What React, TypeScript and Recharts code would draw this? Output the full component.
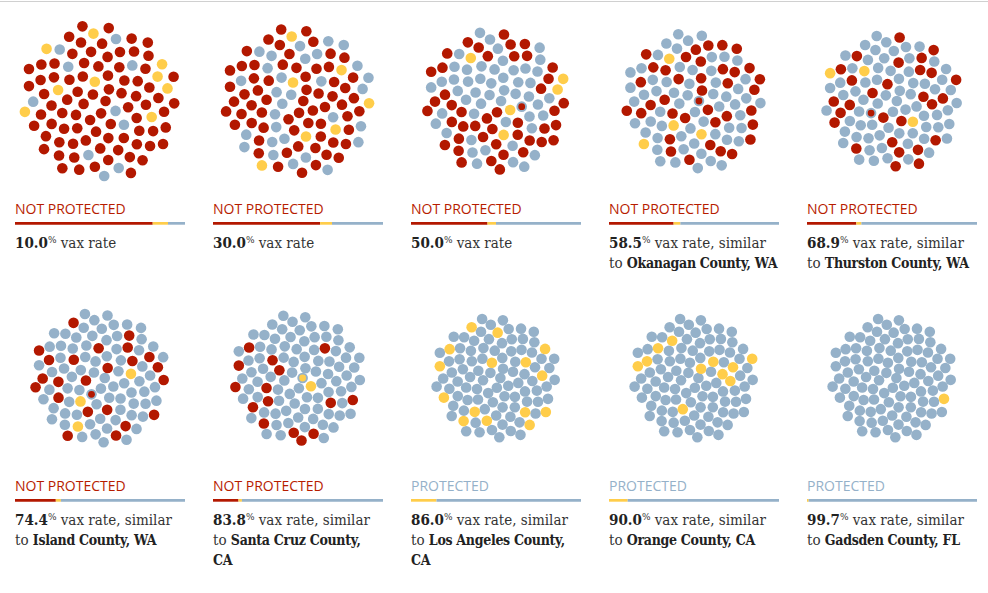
import React from 'react';
import { ScatterChart, Scatter, XAxis, YAxis, BarChart, Bar } from 'recharts';

// ---------- data ----------
const VAX_RATES = ['10.0', '30.0', '50.0', '58.5', '68.9', '74.4', '83.8', '86.0', '90.0', '99.7'];
const SIMILAR_COUNTIES = [
  '', '', '',
  'Okanagan County, WA',
  'Thurston County, WA',
  'Island County, WA',
  'Santa Cruz County,\nCA',
  'Los Angeles County,\nCA',
  'Orange County, CA',
  'Gadsden County, FL',
];
const STATUS_LABELS = [
  'NOT PROTECTED', 'NOT PROTECTED', 'NOT PROTECTED', 'NOT PROTECTED', 'NOT PROTECTED',
  'NOT PROTECTED', 'NOT PROTECTED', 'PROTECTED', 'PROTECTED', 'PROTECTED',
];
// one character per person (100 per community, centre outward):
// r = infected, y = unvaccinated but spared, b = vaccinated,
// z = first case (infected, outlined), w = first contact (spared, outlined)
const PEOPLE_P1 = 'rrrrrbyrrr' + 'rrrrrrrrbr' + 'rrrrrrrrrr' + 'yrrrrbrbrr' + 'rrrrrrryrb' + 'rrrrrrrrrr' + 'rrryrrbrrb' + 'rrbryryrbr' + 'rrrryrrrrr' + 'ybryrrrrrr';
const PEOPLE_P2 = 'rbrrbryrrb' + 'rrbrbrbrrr' + 'brryrrbrbr' + 'rrbrrbrrry' + 'rbrrrbrrbr' + 'yrrbrrrbrr' + 'rrbrbrrbrb' + 'brrryrbrrb' + 'rbrrbrrrby' + 'rrbrbrybrb';
const PEOPLE_P3 = 'bbrbbybrbb' + 'bbbzbrbbrb' + 'rbbybrbbrb' + 'brbrbbrbrb' + 'rbrbbrrbyb' + 'brrbrbbrrb' + 'rrbrbrrbrb' + 'rbrrbryrbr' + 'brrbrbbrrr' + 'rrbrrbryrb';
const PEOPLE_P4 = 'zbbrbrbrbb' + 'brrbrbbrrb' + 'ybbybbrbbr' + 'bbrbbrbrrb' + 'rrbbrbbbyb' + 'rbbrbbrbbr' + 'bbrbrrrbrb' + 'rbbbbbrbbr' + 'brbbrbrbyb' + 'rbrrrbbrbb';
const PEOPLE_P5 = 'bbbbbbrrbr' + 'rbzbbbbbyb' + 'brbbbbbbbb' + 'bbrbryrrrb' + 'bbbrbbbbbb' + 'rbbbbrbrrr' + 'bbbbbrbbbr' + 'bbrrbrbrbb' + 'rbbbbbbrbb' + 'brrbbbbryr';
const PEOPLE_P6 = 'bbbrrbbzbb' + 'bbbbbbbbbr' + 'yyrrbbbbrr' + 'bbbbbbbrrb' + 'bbbbbbrbbb' + 'bbbbbbbbrb' + 'bbyrrrbbbb' + 'bbrbbbrbrb' + 'bbrbbbbbbr' + 'bbbrrbrbrb';
const PEOPLE_P7 = 'wbbbbybbbr' + 'bbbbbbbbbb' + 'bbrbbrbbbb' + 'bbbrbbbrbr' + 'bbbbbbbbbb' + 'bbbbbbbbbb' + 'bbbbbbbrbb' + 'rbbbbrbrrb' + 'brbbbrbbbb' + 'brbrbbbbbb';
const PEOPLE_P8 = 'bbbbbbybbb' + 'bbbbbbbbbb' + 'bbbbbbbbby' + 'bbbbbbbbbb' + 'bybbbbbbby' + 'bbyybybbbb' + 'bbbbbbbbbb' + 'bbbbbybybb' + 'ybybyyybbb' + 'bbbbybbbbb';
const PEOPLE_P9 = 'bbbybbbbbb' + 'bbbbbbybbb' + 'bybbbbbbyb' + 'bbbbybbbbb' + 'bbybbbbbyb' + 'bbbbbbybbb' + 'bbbbybbbbb' + 'bbbbbbbbbb' + 'bbbbbybbbb' + 'bbbbbbbybb';
const PEOPLE_P10 = 'bbbbbbbbbb' + 'bbbbbbbbbb' + 'bbbbbbbbbb' + 'bbbbbbbbbb' + 'bbbbbbbbbb' + 'bbbbbbbbbb' + 'bbbbbbbbbb' + 'bbbbbbbbbb' + 'bybbbbbbbb' + 'bbbbbbbbbb';
const COMMUNITIES = [PEOPLE_P1, PEOPLE_P2, PEOPLE_P3, PEOPLE_P4, PEOPLE_P5, PEOPLE_P6, PEOPLE_P7, PEOPLE_P8, PEOPLE_P9, PEOPLE_P10];

// ---------- styles ----------
const RED = '#b31800';
const YELLOW = '#ffcd4a';
const BLUE = '#95b1c9';
const LABEL_RED = '#b71c00';
const SERIF = '"DejaVu Serif Condensed", "DejaVu Serif", serif';
const SANS = '"Open Sans", "Noto Sans", sans-serif';
const DOT_R = 5.3;
const GOLDEN = Math.PI * (3 - Math.sqrt(5));

type Pt = { x: number; y: number };

function layoutCommunity(people: string) {
  const n = people.length;
  const nRed = people.split('').filter((c) => c === 'r' || c === 'z').length;
  // infected people keep more distance from each other: packing radius grows with them
  const R = Math.sqrt(67 * nRed + 38.5 * (n - nRed));
  const groups: Record<string, Pt[]> = { r: [], y: [], b: [], z: [], w: [] };
  for (let i = 0; i < n; i++) {
    const rad = R * Math.sqrt((i + 0.5) / n);
    const th = i * GOLDEN;
    groups[people[i]].push({ x: rad * Math.cos(th), y: rad * Math.sin(th) });
  }
  return groups;
}

const Dot = (props: any) => <circle cx={props.cx} cy={props.cy} r={DOT_R} fill={props.fill} />;
const RingDot = (props: any) => (
  <g>
    <circle cx={props.cx} cy={props.cy} r={DOT_R} fill={BLUE} />
    <circle cx={props.cx} cy={props.cy} r={3.4} fill={props.fill} />
  </g>
);

const lineStyle: React.CSSProperties = { height: 20, lineHeight: '20px', whiteSpace: 'pre' };
const countyStyle: React.CSSProperties = { color: '#222', fontSize: 14, letterSpacing: -0.3 };

function Panel({ idx }: { idx: number }) {
  const people = COMMUNITIES[idx];
  const groups = layoutCommunity(people);
  const counts = {
    red: groups.r.length + groups.z.length,
    yellow: groups.y.length + groups.w.length,
    blue: groups.b.length,
  };
  const col = idx % 5;
  const row = Math.floor(idx / 5);
  const left = 198 * col;
  const top = 277 * row;
  const status = STATUS_LABELS[idx];
  const county = SIMILAR_COUNTIES[idx];
  const countyLines = county ? county.split('\n') : [];
  return (
    <>
      <div style={{ position: 'absolute', left, top: top + 1 }}>
        <ScatterChart width={200} height={200} margin={{ top: 0, right: 0, bottom: 0, left: 0 }}>
          <XAxis type="number" dataKey="x" domain={[-100, 100]} hide />
          <YAxis type="number" dataKey="y" domain={[-100, 100]} hide />
          <Scatter data={groups.b} fill={BLUE} shape={Dot} isAnimationActive={false} />
          <Scatter data={groups.y} fill={YELLOW} shape={Dot} isAnimationActive={false} />
          <Scatter data={groups.r} fill={RED} shape={Dot} isAnimationActive={false} />
          <Scatter data={groups.z} fill={RED} shape={RingDot} isAnimationActive={false} />
          <Scatter data={groups.w} fill={YELLOW} shape={RingDot} isAnimationActive={false} />
        </ScatterChart>
      </div>
      <div
        style={{
          position: 'absolute', left: left + 15, top: top + 201, fontFamily: SANS, fontSize: 14,
          lineHeight: '16px', color: status === 'PROTECTED' ? BLUE : LABEL_RED, whiteSpace: 'nowrap',
        }}
      >
        {status}
      </div>
      <div style={{ position: 'absolute', left: left + 15, top: top + 222 }}>
        <BarChart
          width={170} height={3} layout="vertical" data={[{ k: 'c', ...counts }]}
          margin={{ top: 0, right: 0, bottom: 0, left: 0 }} barCategoryGap={0}
        >
          <XAxis type="number" domain={[0, people.length]} hide />
          <YAxis type="category" dataKey="k" hide />
          <Bar dataKey="red" stackId="s" fill={RED} barSize={3} isAnimationActive={false} />
          <Bar dataKey="yellow" stackId="s" fill={YELLOW} barSize={3} isAnimationActive={false} />
          <Bar dataKey="blue" stackId="s" fill={BLUE} barSize={3} isAnimationActive={false} />
        </BarChart>
      </div>
      <div
        style={{
          position: 'absolute', left: left + 15, top: top + 233, width: 190, fontFamily: SERIF,
          fontSize: 15, color: '#333',
        }}
      >
        <div style={lineStyle}>
          <b style={{ color: '#222' }}>{VAX_RATES[idx]}</b>
          <span style={{ fontSize: 10, position: 'relative', top: -5 }}>%</span>
          {county ? ' vax rate, similar' : ' vax rate'}
        </div>
        {countyLines.map((ln, j) => (
          <div key={j} style={lineStyle}>
            {j === 0 ? 'to ' : ''}
            <b style={countyStyle}>{ln}</b>
          </div>
        ))}
      </div>
    </>
  );
}

export default function App() {
  return (
    <div style={{ position: 'absolute', left: 0, top: 0, width: 988, height: 593, background: '#fff', overflow: 'hidden' }}>
      <div style={{ position: 'absolute', left: 0, top: 1, width: 988, height: 1, background: '#d0d0d0' }} />
      {COMMUNITIES.map((_, i) => (
        <Panel key={i} idx={i} />
      ))}
    </div>
  );
}
